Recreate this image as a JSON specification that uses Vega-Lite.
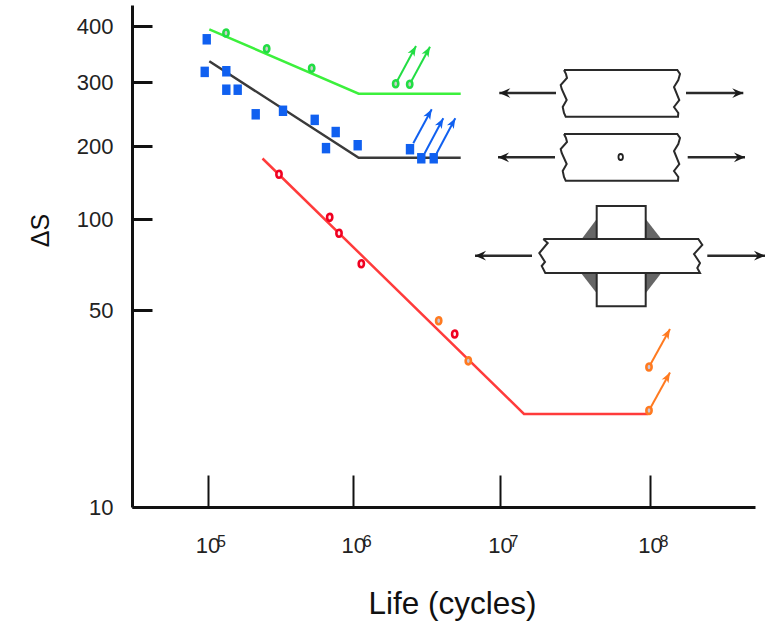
{
"$schema":"https://vega.github.io/schema/vega-lite/v6.json",
"width":623,"height":502,
"autosize":{"type":"none"},
"padding":{"left":132,"top":5,"right":14,"bottom":114},
"background":"white",
"config":{"view":{"stroke":null},"font":"Liberation Sans"},
"datasets":{
"curves":[
{"i":1,"x":102900,"y":393.3,"group":"plain_line"},{"i":2,"x":1088000,"y":278.6,"group":"plain_line"},{"i":3,"x":5397000,"y":278.6,"group":"plain_line"},
{"i":1,"x":102900,"y":333.7,"group":"hole_line"},{"i":2,"x":1088000,"y":179,"group":"hole_line"},{"i":3,"x":5397000,"y":179,"group":"hole_line"},
{"i":1,"x":238400,"y":177.6,"group":"weld_line"},{"i":2,"x":14450000,"y":21.4,"group":"weld_line"},{"i":3,"x":96980000,"y":21.4,"group":"weld_line"}
],
"arrows":[
{"x":1945000,"y":296.8,"x2":2676000,"y2":361,"group":"plain_pts"},
{"x":2424000,"y":295.7,"x2":3333000,"y2":359.6,"group":"plain_pts"},
{"x":2564000,"y":203.4,"x2":3424000,"y2":252.4,"group":"hole_pts"},
{"x":3066000,"y":186.6,"x2":4106000,"y2":238.4,"group":"hole_pts"},
{"x":3702000,"y":186.6,"x2":4959000,"y2":238.4,"group":"hole_pts"},
{"x":98470000,"y":31.4,"x2":135900000,"y2":42.8,"group":"weld_late"},
{"x":98470000,"y":22,"x2":135900000,"y2":30,"group":"weld_late"}
],
"squares":[
{"x":98800,"y":373.6},{"x":95700,"y":316},{"x":134600,"y":317},{"x":134600,"y":285.7},{"x":161100,"y":285.7},{"x":214100,"y":244.5},{"x":329500,"y":250},{"x":543700,"y":236},{"x":757400,"y":218.5},{"x":649800,"y":196},{"x":1071000,"y":201},{"x":2435000,"y":194},{"x":2907000,"y":178},{"x":3533000,"y":178}
],
"circles":[
{"x":133900,"y":385.9,"group":"plain_pts"},{"x":254700,"y":356,"group":"plain_pts"},{"x":518400,"y":321.9,"group":"plain_pts"},{"x":1945000,"y":296.8,"group":"plain_pts"},{"x":2424000,"y":295.7,"group":"plain_pts"},
{"x":309300,"y":152.9,"group":"weld_pts"},{"x":688800,"y":101.6,"group":"weld_pts"},{"x":797900,"y":89.7,"group":"weld_pts"},{"x":1134000,"y":71.1,"group":"weld_pts"},{"x":4911000,"y":41.1,"group":"weld_pts"},
{"x":3820000,"y":45.8,"group":"weld_late"},{"x":6080000,"y":33,"group":"weld_late"},{"x":98470000,"y":31.4,"group":"weld_late"},{"x":98470000,"y":22,"group":"weld_late"}
],
"exponents":[{"x":100000,"y":10,"exp":"5"},{"x":1000000,"y":10,"exp":"6"},{"x":10000000,"y":10,"exp":"7"},{"x":100000000,"y":10,"exp":"8"}],
"outline":[
{"p":"plate1","i":1,"sx":564,"sy":70},{"p":"plate1","i":2,"sx":677.3,"sy":70},{"p":"plate1","i":3,"sx":680,"sy":74},{"p":"plate1","i":4,"sx":678.3,"sy":80},{"p":"plate1","i":5,"sx":674,"sy":87},{"p":"plate1","i":6,"sx":679.3,"sy":100},{"p":"plate1","i":7,"sx":674,"sy":107},{"p":"plate1","i":8,"sx":678.3,"sy":113},{"p":"plate1","i":9,"sx":678,"sy":116.7},{"p":"plate1","i":10,"sx":565.7,"sy":116.7},{"p":"plate1","i":11,"sx":564,"sy":113},{"p":"plate1","i":12,"sx":562.7,"sy":107},{"p":"plate1","i":13,"sx":566.7,"sy":100},{"p":"plate1","i":14,"sx":561.7,"sy":89},{"p":"plate1","i":15,"sx":560.7,"sy":85},{"p":"plate1","i":16,"sx":567,"sy":78},{"p":"plate1","i":17,"sx":566,"sy":74},{"p":"plate1","i":18,"sx":564,"sy":70},
{"p":"plate2","i":1,"sx":564,"sy":134},{"p":"plate2","i":2,"sx":677.3,"sy":134},{"p":"plate2","i":3,"sx":680,"sy":138},{"p":"plate2","i":4,"sx":678.3,"sy":144},{"p":"plate2","i":5,"sx":674,"sy":151},{"p":"plate2","i":6,"sx":679.3,"sy":164},{"p":"plate2","i":7,"sx":674,"sy":171},{"p":"plate2","i":8,"sx":678.3,"sy":177},{"p":"plate2","i":9,"sx":678,"sy":180.7},{"p":"plate2","i":10,"sx":565.7,"sy":180.7},{"p":"plate2","i":11,"sx":564,"sy":177},{"p":"plate2","i":12,"sx":562.7,"sy":171},{"p":"plate2","i":13,"sx":566.7,"sy":164},{"p":"plate2","i":14,"sx":561.7,"sy":153},{"p":"plate2","i":15,"sx":560.7,"sy":149},{"p":"plate2","i":16,"sx":567,"sy":142},{"p":"plate2","i":17,"sx":566,"sy":138},{"p":"plate2","i":18,"sx":564,"sy":134},
{"p":"plate3","i":1,"sx":543.3,"sy":239},{"p":"plate3","i":2,"sx":698.3,"sy":239},{"p":"plate3","i":3,"sx":702.3,"sy":245},{"p":"plate3","i":4,"sx":694,"sy":254},{"p":"plate3","i":5,"sx":700,"sy":263},{"p":"plate3","i":6,"sx":697.3,"sy":268},{"p":"plate3","i":7,"sx":700,"sy":273},{"p":"plate3","i":8,"sx":545.3,"sy":273},{"p":"plate3","i":9,"sx":541.7,"sy":266},{"p":"plate3","i":10,"sx":545,"sy":262},{"p":"plate3","i":11,"sx":539.3,"sy":253},{"p":"plate3","i":12,"sx":547.7,"sy":243},{"p":"plate3","i":13,"sx":543.3,"sy":239},
{"p":"top","i":1,"sx":596.7,"sy":239},{"p":"top","i":2,"sx":596.7,"sy":206},{"p":"top","i":3,"sx":645.7,"sy":206},{"p":"top","i":4,"sx":645.7,"sy":239},
{"p":"bottom","i":1,"sx":596.7,"sy":273},{"p":"bottom","i":2,"sx":596.7,"sy":306.3},{"p":"bottom","i":3,"sx":645.7,"sy":306.3},{"p":"bottom","i":4,"sx":645.7,"sy":273}
],
"fillets":[
{"p":"a","sx":581.7,"sy":239,"sy2":239},{"p":"a","sx":596.7,"sy":219,"sy2":239},
{"p":"b","sx":645.7,"sy":219,"sy2":239},{"p":"b","sx":661.3,"sy":239,"sy2":239},
{"p":"c","sx":581,"sy":273,"sy2":273},{"p":"c","sx":596.7,"sy":293.3,"sy2":273},
{"p":"d","sx":645.7,"sy":293.3,"sy2":273},{"p":"d","sx":661.3,"sy":273,"sy2":273}
],
"load":[
{"sx":556,"sx2":499.3,"sy":93,"dir":"left"},{"sx":686,"sx2":743.3,"sy":93,"dir":"right"},
{"sx":555,"sx2":498,"sy":157.3,"dir":"left"},{"sx":687.7,"sx2":745,"sy":157.3,"dir":"right"},
{"sx":532,"sx2":475,"sy":255.7,"dir":"left"},{"sx":707.3,"sx2":765,"sy":255.7,"dir":"right"}
],
"hole":[{"sx":620.7,"sy":157}]
},
"layer":[
{"encoding":{
"x":{"field":"x","type":"quantitative","scale":{"type":"log","domain":[30400,100000,1000000,10000000,100000000,501000000],"range":[0,75.5,221.3,368,518,623],"nice":false},
"axis":{"values":[100000,1000000,10000000,100000000],"labelExpr":"'10'","grid":false,"tickSize":-32,"tickWidth":2,"tickColor":"#111","domainWidth":3,"domainColor":"#111","labelPadding":60,"labelFontSize":22,"labelFont":"Liberation Sans","labelColor":"#222","labelDx":-3,"labelFlush":false,"labelOverlap":false,"title":"Life (cycles)","titleFontSize":31.5,"titleFontWeight":"normal","titleColor":"#111","titleX":320,"titleY":106,"titleAlign":"center","titleBaseline":"alphabetic"}},
"y":{"field":"y","type":"quantitative","scale":{"type":"log","domain":[10,50,100,200,300,400,460],"range":[502,305,214,141,77,21,0],"nice":false},
"axis":{"values":[10,50,100,200,300,400],"grid":false,"tickSize":-20,"tickWidth":3,"tickColor":"#111","domainWidth":3,"domainColor":"#111","labelPadding":39,"labelFontSize":22,"labelFont":"Liberation Sans","labelColor":"#222","labelFlush":false,"labelOverlap":false,"title":"ΔS","titleFontSize":25,"titleFontWeight":"normal","titleColor":"#111","titleX":-84,"titleY":225,"titleAlign":"center","titleBaseline":"alphabetic"}}
},
"layer":[
{"data":{"name":"curves"},"mark":{"type":"line","strokeWidth":2.5},
"encoding":{"order":{"field":"i","type":"quantitative"},"detail":{"field":"group"},"color":{"field":"group","type":"nominal","legend":null,"scale":{"domain":["plain_line","hole_line","weld_line","plain_pts","hole_pts","weld_pts","weld_late"],"range":["#3cf03c","#3a3a3a","#ff3b3b","#22dd44","#1060f0","#f00020","#ff7a20"]}}}},
{"data":{"name":"arrows"},"mark":{"type":"rule","strokeWidth":2},
"encoding":{"x2":{"field":"x2"},"y2":{"field":"y2"},"color":{"field":"group","type":"nominal","legend":null}}},
{"data":{"name":"arrows"},"mark":{"type":"point","filled":true,"opacity":1,"angle":29,"shape":"M0,0L-0.65,1.7L0,1.25L0.65,1.7Z","size":144},
"encoding":{"x":{"field":"x2","type":"quantitative"},"y":{"field":"y2","type":"quantitative"},"color":{"field":"group","type":"nominal","legend":null}}},
{"data":{"name":"squares"},"mark":{"type":"point","filled":true,"opacity":1,"color":"#1060f0","shape":"M-0.8,-1H0.8V1H-0.8Z","size":110}},
{"data":{"name":"circles"},"mark":{"type":"point","filled":false,"opacity":1,"fillOpacity":1,"strokeWidth":2.6,"size":49,"shape":"M0,-1C0.45,-1 0.75,-0.55 0.75,0C0.75,0.55 0.45,1 0,1C-0.45,1 -0.75,0.55 -0.75,0C-0.75,-0.55 -0.45,-1 0,-1Z"},
"encoding":{"stroke":{"field":"group","type":"nominal","legend":null,"scale":{"domain":["plain_pts","weld_pts","weld_late"],"range":["#22dd44","#f00020","#ff7a20"]}},"fill":{"field":"group","type":"nominal","legend":null,"scale":{"domain":["plain_pts","weld_pts","weld_late"],"range":["#cccccc","#ffe8ee","#c8c8dd"]}}}},
{"data":{"name":"exponents"},"mark":{"type":"text","align":"left","baseline":"alphabetic","dx":9.5,"dy":40,"fontSize":16,"font":"Liberation Sans","color":"#222"},
"encoding":{"text":{"field":"exp"}}}
]},
{"encoding":{
"x":{"field":"sx","type":"quantitative","axis":null,"scale":{"domain":[132,755],"nice":false,"zero":false}},
"y":{"field":"sy","type":"quantitative","axis":null,"scale":{"domain":[507,5],"nice":false,"zero":false}}
},
"layer":[
{"data":{"name":"fillets"},"mark":{"type":"area","color":"#666666","opacity":1},
"encoding":{"y2":{"field":"sy2"},"detail":{"field":"p"}}},
{"data":{"name":"outline"},"mark":{"type":"line","color":"#2a2a2a","strokeWidth":2},
"encoding":{"order":{"field":"i","type":"quantitative"},"detail":{"field":"p"}}},
{"data":{"name":"load"},"mark":{"type":"rule","color":"#2a2a2a","strokeWidth":2.4},
"encoding":{"x2":{"field":"sx2"}}},
{"data":{"name":"load"},"transform":[{"filter":"datum.dir=='left'"}],"mark":{"type":"point","filled":true,"opacity":1,"color":"#1a1a1a","angle":270,"shape":"M0,0L-0.75,1.7L0,1.1L0.75,1.7Z","size":169},
"encoding":{"x":{"field":"sx2","type":"quantitative"}}},
{"data":{"name":"load"},"transform":[{"filter":"datum.dir=='right'"}],"mark":{"type":"point","filled":true,"opacity":1,"color":"#1a1a1a","angle":90,"shape":"M0,0L-0.75,1.7L0,1.1L0.75,1.7Z","size":169},
"encoding":{"x":{"field":"sx2","type":"quantitative"}}},
{"data":{"name":"hole"},"mark":{"type":"point","filled":false,"opacity":1,"color":"#222222","strokeWidth":1.8,"size":36,"shape":"M0,-1C0.45,-1 0.75,-0.55 0.75,0C0.75,0.55 0.45,1 0,1C-0.45,1 -0.75,0.55 -0.75,0C-0.75,-0.55 -0.45,-1 0,-1Z"}}
]}
],
"resolve":{"scale":{"x":"independent","y":"independent","color":"independent"}}
}
